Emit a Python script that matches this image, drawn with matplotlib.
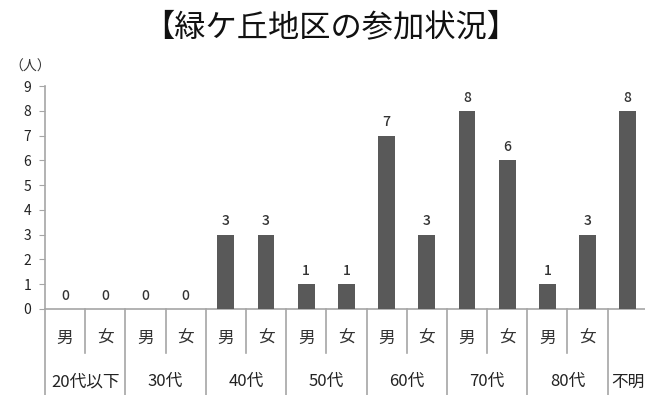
import matplotlib
matplotlib.use("Agg")
import matplotlib.pyplot as plt
import matplotlib.transforms as mtransforms

plt.rcParams['font.family'] = ['Noto Sans CJK JP', 'DejaVu Sans']

groups = ["20代以下", "30代", "40代", "50代", "60代", "70代", "80代"]
sexes = ["男", "女"]
values = [0, 0, 0, 0, 3, 3, 1, 1, 7, 3, 8, 6, 1, 3, 8]
last_label = "不明"
title = "【緑ケ丘地区の参加状況】"
unit = "（人）"
yticks = list(range(0, 10))

fig = plt.figure(figsize=(6.45, 3.95), dpi=100)
ax = fig.add_axes([45/645, 1-309/395, 600/645, 223/395])

x = list(range(len(values)))
bars = ax.bar(x, values, width=0.42, color="#595959", zorder=3)
for xi, v in zip(x, values):
    ax.text(xi, v + 0.25, str(v), ha="center", va="bottom", fontsize=10, color="#333333", fontweight="medium")

ax.set_xlim(-0.5, 14.43)
ax.set_ylim(0, 9)
ax.set_yticks(yticks)
ax.set_xticks([])
for s in ["top", "right"]:
    ax.spines[s].set_visible(False)
for s in ["left", "bottom"]:
    ax.spines[s].set_color("#a6a6a6")
    ax.spines[s].set_linewidth(1.2)
ax.tick_params(axis="y", direction="out", length=4, color="#a6a6a6", labelsize=10, labelcolor="#222222", pad=6)

trans = mtransforms.blended_transform_factory(ax.transData, ax.transAxes)
lc = "#a6a6a6"
# sex separators
for k in range(len(groups)):
    xs = 2*k + 0.5
    ax.plot([xs, xs], [0, -0.197], transform=trans, color=lc, lw=1.2, clip_on=False)
# group separators
for k in range(len(groups) + 1):
    xs = 2*k - 0.5
    ax.plot([xs, xs], [0, -0.40], transform=trans, color=lc, lw=1.2, clip_on=False)

for k, g in enumerate(groups):
    for j, s in enumerate(sexes):
        ax.text(2*k + j, -0.13, s, transform=trans, ha="center", va="center", fontsize=12, color="#333333")
    ax.text(2*k + 0.5, -0.327, g, transform=trans, ha="center", va="center", fontsize=12, color="#222222")
ax.text(14, -0.327, last_label, transform=trans, ha="center", va="center", fontsize=12, color="#222222")

fig.text(331/645, 1-27/395, title, ha="center", va="center", fontsize=22.5, color="#111111")
fig.text(30/645, 1-67/395, unit, ha="center", va="center", fontsize=10, color="#333333")

fig.savefig("out.png", dpi=100)
